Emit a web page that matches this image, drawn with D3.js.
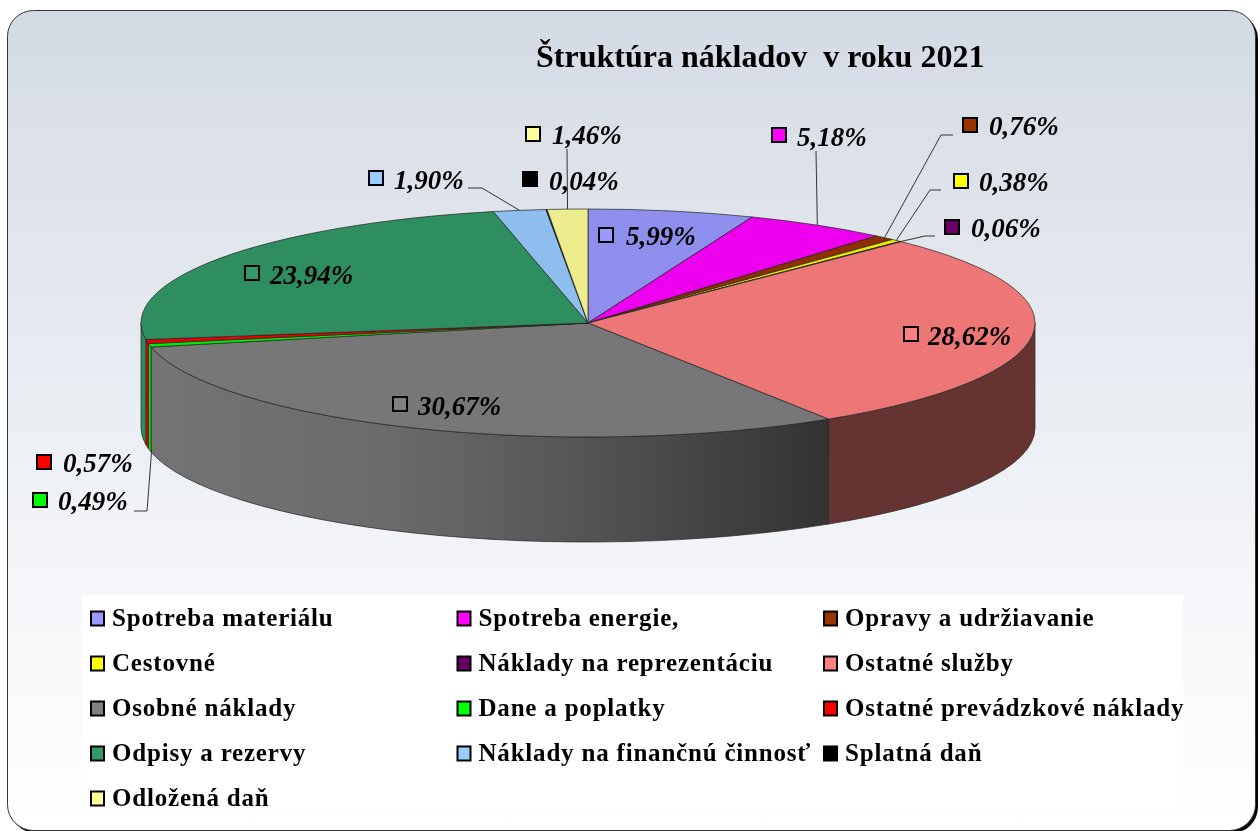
<!DOCTYPE html>
<html>
<head>
<meta charset="utf-8">
<script src="https://cdn.jsdelivr.net/npm/d3@7"></script>
<style>
  html, body { margin: 0; padding: 0; background: #fff; overflow: hidden; }
  svg { filter: blur(0.45px); }
  text { font-family: "Liberation Serif", serif; fill: #000; }
  .title { font-size: 32px; font-weight: bold; white-space: pre; }
  .legend-text { font-size: 25px; font-weight: bold; letter-spacing: 0.8px; }
  .pct { font-size: 27px; font-weight: bold; font-style: italic; }
</style>
</head>
<body>
<div id="chart"></div>
<script>
// Values
var categories = ["Spotreba materiálu", "Spotreba energie,", "Opravy a udržiavanie", "Cestovné",
  "Náklady na reprezentáciu", "Ostatné služby", "Osobné náklady", "Dane a poplatky",
  "Ostatné prevádzkové náklady", "Odpisy a rezervy", "Náklady na finančnú činnosť",
  "Splatná daň", "Odložená daň"];
var shares = [5.99, 5.18, 0.76, 0.38, 0.06, 28.62, 30.67, 0.49, 0.57, 23.94, 1.90, 0.04, 1.46];
var colors = ["#9999ff", "#ff00ff", "#993300", "#ffff00", "#660066", "#ff8080", "#808080",
  "#00ff00", "#ff0000", "#339966", "#99ccff", "#000000", "#ffff99"];
var title = "Štruktúra nákladov  v roku 2021";

var width = 1260, height = 831;
var cx = 588, cy = 323, rx = 447, ry = 114, depth = 105;

// where each data label sits: swatch centre, then text start / baseline
var labelBox = [
  {sx: 606, sy: 235, tx: 626, ty: 245},
  {sx: 779, sy: 135, tx: 797, ty: 146},
  {sx: 970, sy: 125, tx: 989, ty: 135},
  {sx: 961, sy: 181, tx: 979, ty: 191},
  {sx: 952, sy: 227, tx: 971, ty: 237},
  {sx: 911, sy: 334, tx: 928, ty: 345},
  {sx: 400, sy: 404, tx: 418, ty: 415},
  {sx: 40, sy: 500, tx: 58, ty: 510},
  {sx: 44, sy: 462, tx: 63, ty: 472},
  {sx: 252, sy: 273, tx: 270, ty: 284},
  {sx: 376, sy: 178, tx: 394, ty: 189},
  {sx: 530, sy: 179, tx: 549, ty: 190},
  {sx: 533, sy: 134, tx: 552, ty: 144}
];

// leader elbows, keyed by slice index (last point comes from the slice itself)
var leaders = {
  1: [[816, 151], [816, 151]],
  2: [[953, 135], [941, 135]],
  3: [[941, 190], [930, 190]],
  4: [[935, 236], [925, 236]],
  7: [[134, 511], [147, 511]],
  10: [[468, 188], [482, 188]],
  12: [[567, 149], [567, 149]]
};

var x = d3.scaleLinear().domain([-1, 1]).range([cx - rx, cx + rx]);
var y = d3.scaleLinear().domain([-1, 1]).range([cy - ry, cy + ry]);

function pointAt(a) { return [x(Math.sin(a)), y(-Math.cos(a))]; }

var arcs = d3.pie().sort(null).value(function(d) { return d; })
  .startAngle(0).endAngle(2 * Math.PI)(shares);

function topPath(d) {
  var p0 = pointAt(d.startAngle), p1 = pointAt(d.endAngle);
  var large = d.endAngle - d.startAngle > Math.PI ? 1 : 0;
  return "M" + cx + "," + cy + "L" + p0 + "A" + rx + "," + ry + " 0 " + large + " 1 " + p1 + "Z";
}

function wallPath(d) {
  var a0 = Math.max(d.startAngle, Math.PI / 2), a1 = Math.min(d.endAngle, 3 * Math.PI / 2);
  if (a1 <= a0) return null;
  var p0 = pointAt(a0), p1 = pointAt(a1);
  return "M" + p0 + "A" + rx + "," + ry + " 0 0 1 " + p1 +
    "L" + p1[0] + "," + (p1[1] + depth) +
    "A" + rx + "," + ry + " 0 0 0 " + p0[0] + "," + (p0[1] + depth) + "Z";
}

function topColor(c) { return d3.rgb(c).darker(0.2).formatHex(); }

function wallColor(i) {
  if (i == 5) return "#663333";
  if (i == 6) return "url(#wallGray)";
  return topColor(colors[i]);
}

var svg = d3.select("#chart").append("svg")
  .attr("width", width)
  .attr("height", height)
  .style("display", "block");

var defs = svg.append("defs");

var bg = defs.append("linearGradient").attr("id", "panelBg")
  .attr("x1", 0).attr("y1", 0).attr("x2", 0).attr("y2", 1);
bg.append("stop").attr("offset", 0).attr("stop-color", "#d4dae4");
bg.append("stop").attr("offset", 0.7).attr("stop-color", "#f4f6f9");
bg.append("stop").attr("offset", 1).attr("stop-color", "#ffffff");

var wg = defs.append("linearGradient").attr("id", "wallGray")
  .attr("gradientUnits", "userSpaceOnUse")
  .attr("x1", 150).attr("y1", 0).attr("x2", 828).attr("y2", 0);
wg.append("stop").attr("offset", 0).attr("stop-color", "#747474");
wg.append("stop").attr("offset", 0.35).attr("stop-color", "#6b6b6b");
wg.append("stop").attr("offset", 0.62).attr("stop-color", "#565656");
wg.append("stop").attr("offset", 1).attr("stop-color", "#333333");

// panel with the black drop edge on the right and bottom
svg.append("rect")
  .attr("x", 10).attr("y", 13).attr("width", 1248).attr("height", 820)
  .attr("rx", 26).attr("fill", "#000");
svg.append("rect")
  .attr("x", 7.5).attr("y", 10.5).attr("width", 1248).attr("height", 820)
  .attr("rx", 26).attr("fill", "url(#panelBg)")
  .attr("stroke", "#333").attr("stroke-width", 1);

svg.append("text").attr("class", "title")
  .attr("x", 536).attr("y", 67)
  .text(title);

// pie
var pie = svg.append("g");
pie.selectAll(".wall").data(arcs).enter()
  .filter(function(d) { return wallPath(d) != null; })
  .append("path")
    .attr("class", "wall")
    .attr("d", wallPath)
    .attr("fill", function(d) { return wallColor(d.index); })
    .attr("stroke", "#222")
    .attr("stroke-width", 0.7);

pie.selectAll(".slice").data(arcs).enter().append("path")
  .attr("class", "slice")
  .attr("d", topPath)
  .attr("fill", function(d) { return topColor(colors[d.index]); })
  .attr("stroke", "#222")
  .attr("stroke-width", 0.7)
  .attr("stroke-linejoin", "round");

// leader lines
var leaderLine = d3.line();
Object.keys(leaders).forEach(function(k) {
  var d = arcs[+k];
  var tip = pointAt((d.startAngle + d.endAngle) / 2);
  if (+k == 7) tip = [tip[0] + 2, tip[1] + depth];
  pie.append("path")
    .attr("d", leaderLine(leaders[k].concat([tip])))
    .attr("fill", "none")
    .attr("stroke", "#333")
    .attr("stroke-width", 1);
});

// data labels
var pctFormat = function(v) { return v.toFixed(2).replace(".", ",") + "%"; };
var labels = svg.append("g").selectAll("g").data(shares).enter().append("g");
labels.append("rect")
  .attr("x", function(d, i) { return labelBox[i].sx - 7; })
  .attr("y", function(d, i) { return labelBox[i].sy - 7; })
  .attr("width", 14).attr("height", 14)
  .attr("fill", function(d, i) { return colors[i]; })
  .attr("stroke", "#000").attr("stroke-width", 2);
labels.append("text").attr("class", "pct")
  .attr("x", function(d, i) { return labelBox[i].tx; })
  .attr("y", function(d, i) { return labelBox[i].ty; })
  .text(pctFormat);

// legend
svg.append("rect")
  .attr("x", 82).attr("y", 595).attr("width", 1101).attr("height", 215)
  .attr("fill", "#fff");

var colX = d3.scalePoint().domain([0, 1, 2]).range([90, 823]);
var rowY = d3.scalePoint().domain([0, 1, 2, 3, 4]).range([618, 798]);

var legend = svg.append("g").selectAll("g").data(categories).enter().append("g")
  .attr("transform", function(d, i) {
    return "translate(" + colX(i % 3) + "," + rowY(Math.floor(i / 3)) + ")";
  });
legend.append("rect")
  .attr("x", 1).attr("y", -6.5).attr("width", 13).attr("height", 14)
  .attr("fill", function(d, i) { return colors[i]; })
  .attr("stroke", "#000").attr("stroke-width", 2);
legend.append("text").attr("class", "legend-text")
  .attr("x", 22).attr("y", 8)
  .text(function(d) { return d; });
</script>
</body>
</html>
